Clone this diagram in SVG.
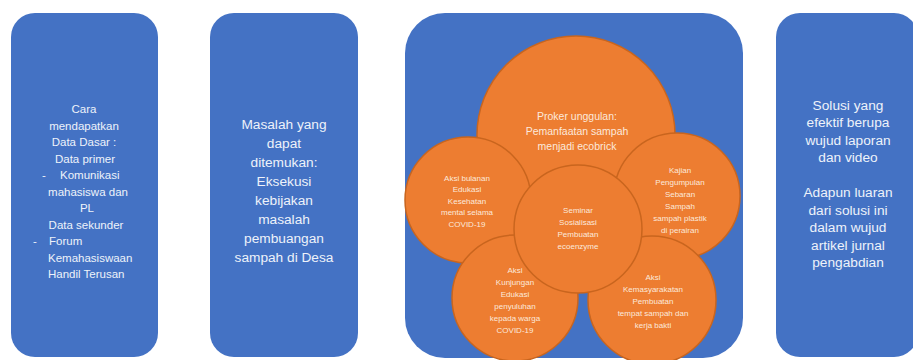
<svg xmlns="http://www.w3.org/2000/svg" width="913" height="360" viewBox="0 0 913 360">
<style>
.box{fill:#4472C4;}
.bt{font-family:"Liberation Sans",Arial,sans-serif;fill:#EEF2FA;dominant-baseline:central;}
.s1{font-size:11.5px;}
.s2{font-size:13.7px;text-anchor:middle;}
.c{text-anchor:middle;}
.circ{fill:#ED7D31;stroke:#C9651E;stroke-width:1.5;}
.ct{font-family:"Liberation Sans",Arial,sans-serif;fill:#FCE9DC;font-size:8px;text-anchor:middle;dominant-baseline:central;}
.ctl{font-size:10.5px;}
</style>
<rect width="913" height="360" fill="#FFFFFF"/>
<g id="connectors"/>
<g id="box1">
<rect class="box" x="11" y="13" width="147" height="344" rx="24"/>
<text class="bt s1 c" x="84" y="109">Cara</text>
<text class="bt s1 c" x="84" y="125.5">mendapatkan</text>
<text class="bt s1 c" x="84" y="142">Data Dasar :</text>
<text class="bt s1 c" x="85" y="158.5">Data primer</text>
<text class="bt s1" x="42" y="175">-</text>
<text class="bt s1" x="60" y="175">Komunikasi</text>
<text class="bt s1 c" x="88" y="191.5">mahasiswa dan</text>
<text class="bt s1 c" x="87" y="208">PL</text>
<text class="bt s1 c" x="86" y="224.5">Data sekunder</text>
<text class="bt s1" x="33" y="241">-</text>
<text class="bt s1" x="49" y="241">Forum</text>
<text class="bt s1" x="48" y="257.5">Kemahasiswaan</text>
<text class="bt s1" x="48" y="274">Handil Terusan</text>
</g>
<g id="box2">
<rect class="box" x="210" y="13" width="148" height="344" rx="24"/>
<text class="bt s2" x="284" y="124">Masalah yang</text>
<text class="bt s2" x="284" y="143">dapat</text>
<text class="bt s2" x="284" y="162">ditemukan:</text>
<text class="bt s2" x="284" y="181">Eksekusi</text>
<text class="bt s2" x="284" y="200">kebijakan</text>
<text class="bt s2" x="284" y="219">masalah</text>
<text class="bt s2" x="284" y="238">pembuangan</text>
<text class="bt s2" x="284" y="257">sampah di Desa</text>
</g>
<g id="box3">
<rect class="box" x="405" y="13" width="338" height="345" rx="40"/>
</g>
<g id="circle-top">
<circle class="circ" cx="576" cy="135" r="99"/>
<text class="ct ctl" x="577" y="116">Proker unggulan:</text>
<text class="ct ctl" x="577" y="131">Pemanfaatan sampah</text>
<text class="ct ctl" x="577" y="146">menjadi ecobrick</text>
</g>
<g id="circle-left">
<circle class="circ" cx="468" cy="200" r="63"/>
<text class="ct" x="467" y="178">Aksi bulanan</text>
<text class="ct" x="467" y="189.5">Edukasi</text>
<text class="ct" x="467" y="201">Kesehatan</text>
<text class="ct" x="467" y="212.5">mental selama</text>
<text class="ct" x="467" y="224">COVID-19</text>
</g>
<g id="circle-right">
<circle class="circ" cx="677" cy="196" r="63"/>
<text class="ct" x="680" y="170">Kajian</text>
<text class="ct" x="680" y="182">Pengumpulan</text>
<text class="ct" x="680" y="194">Sebaran</text>
<text class="ct" x="680" y="206">Sampah</text>
<text class="ct" x="680" y="218">sampah plastik</text>
<text class="ct" x="680" y="230">di perairan</text>
</g>
<g id="circle-bottom-left">
<circle class="circ" cx="515" cy="298" r="63"/>
<text class="ct" x="515" y="270">Aksi</text>
<text class="ct" x="515" y="282">Kunjungan</text>
<text class="ct" x="515" y="294">Edukasi</text>
<text class="ct" x="515" y="306">penyuluhan</text>
<text class="ct" x="515" y="318">kepada warga</text>
<text class="ct" x="515" y="330">COVID-19</text>
</g>
<g id="circle-bottom-right">
<circle class="circ" cx="652" cy="300" r="64"/>
<text class="ct" x="653" y="277">Aksi</text>
<text class="ct" x="653" y="289">Kemasyarakatan</text>
<text class="ct" x="653" y="301">Pembuatan</text>
<text class="ct" x="653" y="313">tempat sampah dan</text>
<text class="ct" x="653" y="325">kerja bakti</text>
</g>
<g id="circle-center">
<circle class="circ" cx="578" cy="229" r="64"/>
<text class="ct" x="578" y="210">Seminar</text>
<text class="ct" x="578" y="222">Sosialisasi</text>
<text class="ct" x="578" y="234">Pembuatan</text>
<text class="ct" x="578" y="246">ecoenzyme</text>
</g>
<g id="box4">
<rect class="box" x="776" y="13" width="142" height="344" rx="24"/>
<text class="bt s2" x="848" y="105">Solusi yang</text>
<text class="bt s2" x="848" y="122.5">efektif berupa</text>
<text class="bt s2" x="848" y="140">wujud laporan</text>
<text class="bt s2" x="848" y="157.5">dan video</text>
<text class="bt s2" x="848" y="192.5">Adapun luaran</text>
<text class="bt s2" x="848" y="210">dari solusi ini</text>
<text class="bt s2" x="848" y="227.5">dalam wujud</text>
<text class="bt s2" x="848" y="245">artikel jurnal</text>
<text class="bt s2" x="848" y="262.5">pengabdian</text>
</g>
</svg>
